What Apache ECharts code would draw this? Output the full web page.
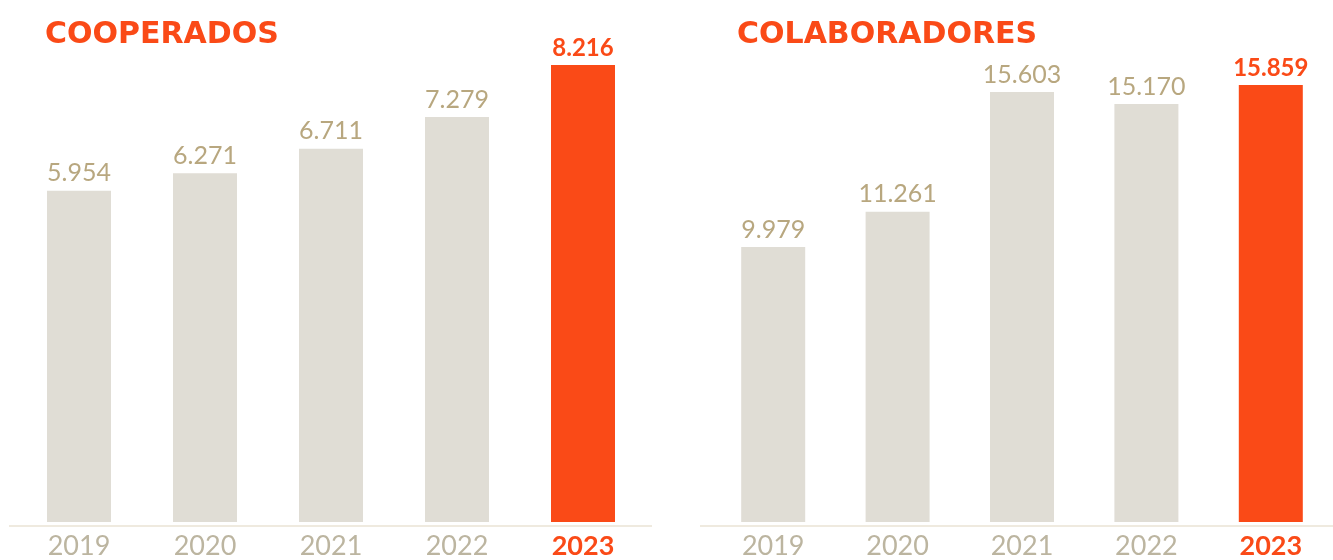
<!DOCTYPE html>
<html>
<head>
<meta charset="utf-8">
<script src="https://cdn.jsdelivr.net/npm/echarts@6/dist/echarts.min.js"></script>
<style>html,body{margin:0;padding:0;background:#fff}#c{width:1333px;height:560px}</style>
</head>
<body>
<div id="c"></div>
<script>
const years = ['2019', '2020', '2021', '2022', '2023'];
const cooperados = [5954, 6271, 6711, 7279, 8216];
const colaboradores = [9979, 11261, 15603, 15170, 15859];
const titles = ['COOPERADOS', 'COLABORADORES'];

const GRAY = '#e0ddd5', ORANGE = '#fa4a17', VAL = '#b8a77f', YEAR = '#bcb5a0', LINE = '#efeadf';
const FONT = 'Lato';
const TFONT = 'DejaVu Sans';

function fmt(v) { return String(v).replace(/\B(?=(\d{3})+(?!\d))/g, '.'); }

function series(data, idx) {
  return {
    type: 'bar', xAxisIndex: idx, yAxisIndex: idx, barWidth: 64,
    data: data.map((v, i) => {
      const hl = i === data.length - 1;
      return {
        value: v,
        itemStyle: { color: hl ? ORANGE : GRAY },
        label: { color: hl ? ORANGE : VAL, fontWeight: hl ? 'bold' : 'normal', fontSize: hl ? 24 : 25 }
      };
    }),
    label: { show: true, position: 'top', distance: 5, fontFamily: FONT, formatter: p => fmt(p.value) },
    silent: true
  };
}

function xAxis(idx) {
  return {
    type: 'category', gridIndex: idx, data: years,
    axisLine: { show: false }, axisTick: { show: false },
    axisLabel: {
      margin: 11,
      formatter: (v, i) => i === years.length - 1 ? '{b|' + v + '}' : '{n|' + v + '}',
      rich: {
        n: { fontFamily: FONT, fontSize: 27, color: YEAR },
        b: { fontFamily: FONT, fontSize: 27, color: ORANGE, fontWeight: 'bold' }
      }
    }
  };
}
function yAxis(idx) {
  return { type: 'value', gridIndex: idx, min: 0, max: 'dataMax', show: false, splitLine: { show: false } };
}

const chart = echarts.init(document.getElementById('c'));
chart.setOption({
  animation: false,
  title: [
    { text: titles[0], left: 45, top: 20, padding: 0, textStyle: { fontFamily: TFONT, fontSize: 30, fontWeight: 'bold', color: ORANGE } },
    { text: titles[1], left: 737, top: 20, padding: 0, textStyle: { fontFamily: TFONT, fontSize: 30, fontWeight: 'bold', color: ORANGE } }
  ],
  grid: [
    { left: 16, width: 630, top: 65, height: 460 },
    { left: 711, width: 622.5, top: 85, height: 440 }
  ],
  xAxis: [xAxis(0), xAxis(1)],
  yAxis: [yAxis(0), yAxis(1)],
  series: [series(cooperados, 0), series(colaboradores, 1)],
  graphic: [
    { type: 'rect', shape: { x: 9, y: 525, width: 643, height: 2 }, style: { fill: LINE }, silent: true },
    { type: 'rect', shape: { x: 700, y: 525, width: 633, height: 2 }, style: { fill: LINE }, silent: true }
  ]
});
</script>
</body>
</html>
